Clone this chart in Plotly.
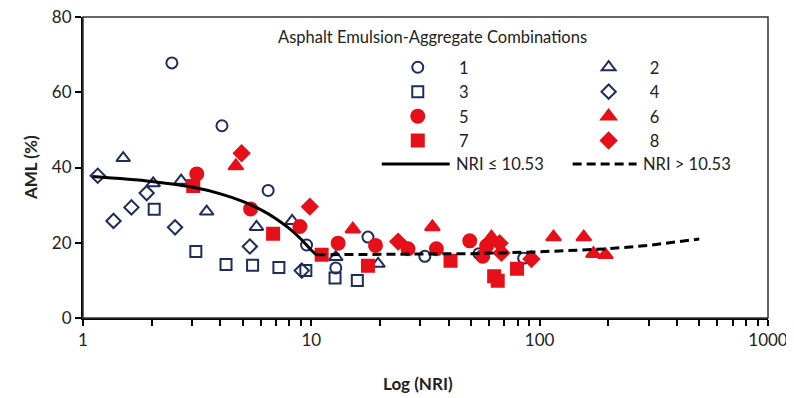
import plotly.graph_objects as go

# ---- data ----
nri_1 = [2.45, 4.06, 6.47, 9.53, 12.8, 17.7, 31.4, 54.2, 85.1]
aml_1 = [67.8, 51.1, 33.9, 19.4, 13.3, 21.5, 16.4, 17.1, 15.9]

nri_2 = [1.50, 2.03, 2.69, 3.48, 5.75, 8.24, 12.8, 19.6]
aml_2 = [42.5, 35.8, 36.5, 28.3, 24.2, 25.8, 16.2, 14.4]

nri_3 = [2.05, 3.12, 4.23, 5.53, 7.21, 9.46, 12.7, 15.9]
aml_3 = [28.9, 17.7, 14.2, 14.0, 13.4, 12.6, 10.6, 10.0]

nri_4 = [1.16, 1.36, 1.63, 1.90, 2.53, 5.38, 9.08]
aml_4 = [37.8, 25.8, 29.4, 33.2, 24.1, 19.0, 12.6]

nri_5 = [3.15, 5.42, 8.91, 13.1, 19.1, 26.5, 35.3, 49.4, 56.3, 58.6]
aml_5 = [38.3, 29.0, 24.3, 19.9, 19.3, 18.4, 18.4, 20.5, 16.4, 19.2]

nri_6 = [4.67, 15.2, 33.9, 61.5, 115, 156, 172, 194]
aml_6 = [40.4, 23.6, 24.2, 21.5, 21.5, 21.5, 17.1, 16.8]

nri_7 = [3.04, 6.80, 11.1, 17.7, 40.7, 63.2, 65.5, 79.6]
aml_7 = [35.1, 22.4, 16.8, 13.9, 15.2, 11.1, 9.9, 13.1]

nri_8 = [4.95, 9.85, 24.0, 66.8, 68.0, 92.0]
aml_8 = [43.8, 29.6, 20.3, 19.9, 17.3, 15.7]

nri_fit1 = [1.1, 2, 3, 4, 5, 6, 7, 8, 9, 10, 10.53]
aml_fit1 = [37.6, 36.3, 34.8, 33.0, 31.0, 28.8, 26.4, 23.8, 21.0, 18.0, 16.8]

nri_fit2 = [10.53, 50, 100, 200, 300, 400, 500]
aml_fit2 = [16.8, 17.1, 17.6, 18.4, 19.3, 20.2, 21.0]

x_tickvals = [1, 2, 3, 4, 5, 6, 7, 8, 9,
              10, 20, 30, 40, 50, 60, 70, 80, 90,
              100, 200, 300, 400, 500, 600, 700, 800, 900, 1000]
x_ticktext = ["1", "", "", "", "", "", "", "", "",
              "10", "", "", "", "", "", "", "", "",
              "100", "", "", "", "", "", "", "", "", "1000"]
y_tickvals = [0, 20, 40, 60, 80]

legend_title = "Asphalt Emulsion-Aggregate Combinations"
fit_labels = ["NRI ≤ 10.53", "NRI > 10.53"]

NAVY = "#1F2D5C"
RED = "#E6101A"
FONT = "Lato, 'Open Sans', sans-serif"
NB = "\u00a0"

fig = go.Figure()

series = [
    ("1", nri_1, aml_1, "circle-open", NAVY, 11, "legend"),
    ("2", nri_2, aml_2, "triangle-up-open", NAVY, 12, "legend2"),
    ("3", nri_3, aml_3, "square-open", NAVY, 11, "legend"),
    ("4", nri_4, aml_4, "diamond-open", NAVY, 11, "legend2"),
    ("5", nri_5, aml_5, "circle", RED, 13, "legend"),
    ("6", nri_6, aml_6, "triangle-up", RED, 13, "legend2"),
    ("7", nri_7, aml_7, "square", RED, 12, "legend"),
    ("8", nri_8, aml_8, "diamond", RED, 12, "legend2"),
]

for name, xs, ys, sym, col, size, leg in series:
    fig.add_trace(go.Scatter(
        x=xs, y=ys, mode="markers", name=NB * 5 + name,
        marker=dict(symbol=sym, color=col, size=size,
                    line=dict(width=2, color=col)),
        legend=leg, showlegend=True,
    ))

fig.add_trace(go.Scatter(
    x=nri_fit1, y=aml_fit1, mode="lines", line=dict(color="black", width=3, shape="spline"),
    showlegend=False))
fig.add_trace(go.Scatter(
    x=nri_fit2, y=aml_fit2, mode="lines", line=dict(color="black", width=3, dash="9px,5px"),
    showlegend=False))

# page is offset by the 8px body margin; plot area on page: x 83..768.5, y 17..318
def px_x(p):
    return (p - 83) / 685.5

def px_y(p):
    return (318 - p) / 301.0

shapes = [
    dict(type="rect", xref="paper", yref="paper", x0=0, x1=1, y0=0, y1=1,
         line=dict(color="#333", width=1.5)),
    dict(type="line", xref="paper", yref="paper", x0=px_x(382), x1=px_x(450),
         y0=px_y(164), y1=px_y(164), line=dict(color="black", width=3)),
    dict(type="line", xref="paper", yref="paper", x0=px_x(573), x1=px_x(637),
         y0=px_y(164), y1=px_y(164), line=dict(color="black", width=3, dash="9px,5px")),
]

annotations = [
    dict(text=legend_title, xref="paper", yref="paper", x=px_x(276), y=px_y(37),
         xanchor="left", yanchor="middle", showarrow=False,
         font=dict(family=FONT, size=16.5, color="#222")),
    dict(text=fit_labels[0], xref="paper", yref="paper", x=px_x(454), y=px_y(164),
         xanchor="left", yanchor="middle", showarrow=False,
         font=dict(family=FONT, size=16.5, color="#222")),
    dict(text=fit_labels[1], xref="paper", yref="paper", x=px_x(641), y=px_y(164),
         xanchor="left", yanchor="middle", showarrow=False,
         font=dict(family=FONT, size=16.5, color="#222")),
    dict(text="<b>AML (%)</b>", xref="paper", yref="paper", x=px_x(30), y=px_y(168),
         xanchor="center", yanchor="middle", textangle=-90, showarrow=False,
         font=dict(family=FONT, size=17, color="#222")),
    dict(text="<b>Log (NRI)</b>", xref="paper", yref="paper", x=px_x(418), y=px_y(383),
         xanchor="center", yanchor="middle", showarrow=False,
         font=dict(family=FONT, size=17, color="#222")),
]

leg_common = dict(bgcolor="rgba(0,0,0,0)", borderwidth=0, orientation="v",
                  xanchor="left", yanchor="top", tracegroupgap=0,
                  font=dict(family=FONT, size=16.5, color="#222"))

fig.update_layout(
    width=786, height=390,
    margin=dict(l=75, r=25.5, t=9, b=80, autoexpand=False),
    paper_bgcolor="white", plot_bgcolor="white",
    font=dict(family=FONT, size=16, color="#222"),
    shapes=shapes, annotations=annotations,
    legend=dict(x=px_x(398), y=px_y(50), **leg_common),
    legend2=dict(x=px_x(589), y=px_y(50), **leg_common),
    xaxis=dict(
        type="log", range=[0, 3], tickvals=x_tickvals, ticktext=x_ticktext,
        ticks="outside", ticklen=6, tickwidth=1.5, tickcolor="black",
        showline=True, linecolor="black", linewidth=2, showgrid=False, zeroline=False,
        automargin=False, ticklabeloverflow="allow",
        tickfont=dict(family=FONT, size=17, color="#222"),
    ),
    yaxis=dict(
        range=[0, 80], tickvals=y_tickvals, ticks="outside", ticklen=6, tickwidth=1.5,
        tickcolor="black", showline=True, linecolor="black", linewidth=2,
        showgrid=False, zeroline=False, automargin=False, ticklabeloverflow="allow",
        tickfont=dict(family=FONT, size=17, color="#222"),
    ),
)

fig.write_html("out.html")
